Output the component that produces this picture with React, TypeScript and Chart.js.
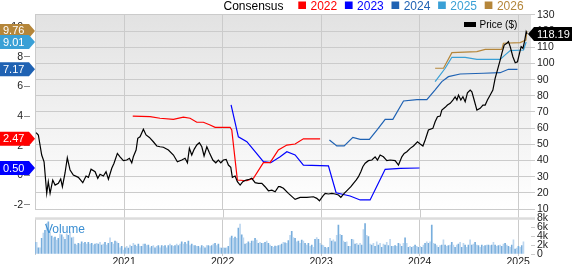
import React, { useEffect, useRef } from "react";
import { Chart, registerables } from "chart.js";

Chart.register(...registerables);

const FONT = "'Liberation Sans', Arial, sans-serif";

// ---- Data ----
const X_MIN = 2020.096;
const X_MAX = 2025.13;
const PRICE_MIN = 9.4;
const PRICE_MAX = 130.6;
const EPS_MIN = -2.338;
const EPS_MAX = 10.905;

const PRICE: [number, number][] = [
  [2020.107, 57.2], [2020.13, 55.8], [2020.164, 43.4], [2020.188, 39.2], [2020.215, 19.7], [2020.231, 26.9],
  [2020.249, 19.7], [2020.276, 27.9], [2020.3, 24.8], [2020.333, 25.9], [2020.357, 28.6], [2020.374, 23.8],
  [2020.401, 32.3], [2020.424, 41.7], [2020.452, 34.1], [2020.485, 31.0], [2020.536, 29.6], [2020.581, 26.3],
  [2020.614, 30.4], [2020.638, 29.6], [2020.665, 34.6], [2020.706, 33.1], [2020.733, 29.0], [2020.756, 31.5],
  [2020.79, 30.4], [2020.817, 33.1], [2020.841, 28.4], [2020.875, 35.2], [2020.898, 38.3], [2020.932, 44.4],
  [2020.959, 42.3], [2020.993, 39.9], [2021.027, 40.3], [2021.054, 41.4], [2021.078, 38.6], [2021.094, 42.3],
  [2021.122, 46.5], [2021.139, 53.7], [2021.162, 54.7], [2021.196, 59.3], [2021.223, 55.8], [2021.257, 54.3],
  [2021.297, 51.6], [2021.332, 49.0], [2021.365, 48.5], [2021.399, 48.2], [2021.45, 46.5], [2021.501, 43.4],
  [2021.541, 39.2], [2021.586, 40.3], [2021.619, 41.4], [2021.643, 38.6], [2021.663, 47.5], [2021.687, 43.4],
  [2021.711, 46.9], [2021.738, 49.6], [2021.764, 51.0], [2021.789, 48.5], [2021.812, 42.8], [2021.84, 48.5],
  [2021.866, 44.8], [2021.901, 40.3], [2021.931, 38.6], [2021.957, 40.3], [2021.982, 38.6], [2022.008, 40.3],
  [2022.036, 40.7], [2022.059, 37.2], [2022.083, 35.8], [2022.099, 29.6], [2022.127, 30.4], [2022.15, 26.9],
  [2022.178, 24.8], [2022.205, 26.9], [2022.239, 27.9], [2022.272, 28.4], [2022.296, 29.0], [2022.33, 26.3],
  [2022.363, 25.9], [2022.398, 25.9], [2022.431, 23.8], [2022.465, 21.3], [2022.5, 21.7], [2022.533, 20.7],
  [2022.567, 23.8], [2022.584, 23.8], [2022.617, 22.8], [2022.668, 19.7], [2022.736, 16.0], [2022.787, 17.2],
  [2022.855, 17.2], [2022.922, 17.6], [2022.956, 16.6], [2022.983, 15.1], [2023.017, 18.0], [2023.041, 19.7],
  [2023.074, 19.3], [2023.109, 19.7], [2023.142, 19.3], [2023.176, 18.7], [2023.2, 17.2], [2023.234, 19.7],
  [2023.267, 21.7], [2023.302, 23.8], [2023.328, 25.9], [2023.355, 27.9], [2023.379, 30.0], [2023.403, 33.1],
  [2023.423, 36.2], [2023.447, 38.3], [2023.48, 39.9], [2023.515, 40.3], [2023.548, 42.3], [2023.572, 40.3],
  [2023.599, 43.4], [2023.632, 42.3], [2023.667, 39.9], [2023.701, 40.3], [2023.751, 39.9], [2023.785, 37.2],
  [2023.819, 42.3], [2023.843, 44.4], [2023.87, 45.4], [2023.904, 47.5], [2023.937, 49.0], [2023.978, 51.6],
  [2024.005, 50.2], [2024.033, 49.0], [2024.056, 52.7], [2024.089, 58.9], [2024.134, 59.9], [2024.157, 64.0],
  [2024.181, 67.1], [2024.208, 67.5], [2024.225, 71.2], [2024.259, 72.9], [2024.282, 74.3], [2024.31, 75.4],
  [2024.337, 77.4], [2024.36, 79.4], [2024.378, 77.4], [2024.394, 80.5], [2024.418, 77.4], [2024.439, 79.4],
  [2024.462, 76.4], [2024.485, 81.9], [2024.513, 83.6], [2024.53, 82.5], [2024.553, 77.4], [2024.581, 71.2],
  [2024.614, 72.3], [2024.642, 74.3], [2024.665, 74.3], [2024.688, 77.4], [2024.716, 80.5], [2024.743, 83.6],
  [2024.766, 90.8], [2024.79, 96.0], [2024.817, 102.1], [2024.834, 106.3], [2024.858, 111.4], [2024.885, 112.5],
  [2024.901, 113.5], [2024.919, 110.4], [2024.946, 104.2], [2024.97, 100.5], [2024.993, 101.1], [2025.013, 106.3],
  [2025.03, 110.4], [2025.048, 109.4], [2025.064, 113.5], [2025.081, 119.6], [2025.09, 118.19],
];

const EPS_2022: [number, number][] = [
  [2021.088, 4.01], [2021.264, 3.97], [2021.365, 3.86], [2021.501, 3.79], [2021.602, 3.93], [2021.67, 3.86],
  [2021.738, 3.59], [2021.805, 3.59], [2021.873, 3.41], [2021.924, 3.25], [2022.076, 3.25], [2022.093, 3.07],
  [2022.15, -0.31], [2022.246, -0.36], [2022.313, -0.2], [2022.414, 0.86], [2022.482, 0.86], [2022.566, 1.72],
  [2022.652, 2.05], [2022.736, 2.12], [2022.82, 2.47], [2022.99, 2.47],
];
const EPS_2023: [number, number][] = [
  [2022.086, 4.76], [2022.16, 2.61], [2022.246, 2.28], [2022.33, 1.6], [2022.414, 0.93], [2022.489, 0.86],
  [2022.584, 1.26], [2022.652, 1.6], [2022.736, 1.38], [2022.82, 0.7], [2023.074, 0.64], [2023.152, -1.17],
  [2023.294, -1.39], [2023.396, -1.66], [2023.497, -1.66], [2023.65, 0.41], [2023.802, 0.48], [2023.998, 0.5],
];
const EPS_2024: [number, number][] = [
  [2023.084, 2.39], [2023.159, 1.99], [2023.234, 1.99], [2023.322, 2.57], [2023.396, 2.44], [2023.49, 2.44],
  [2023.572, 3.11], [2023.65, 3.79], [2023.728, 3.79], [2023.836, 5.03], [2023.972, 5.12], [2024.073, 5.12],
  [2024.157, 5.78], [2024.225, 6.34], [2024.292, 6.67], [2024.411, 6.85], [2024.647, 6.9], [2024.817, 6.94],
  [2024.901, 7.17], [2024.993, 7.17],
];
const EPS_2025: [number, number][] = [
  [2024.157, 6.33], [2024.259, 7.24], [2024.327, 7.98], [2024.462, 7.98], [2024.581, 7.84], [2024.817, 7.84],
  [2024.868, 8.14], [2024.919, 8.43], [2025.054, 8.47], [2025.081, 9.01],
];
const EPS_2026: [number, number][] = [
  [2024.157, 7.24], [2024.242, 7.24], [2024.327, 8.29], [2024.581, 8.36], [2024.665, 8.52], [2024.834, 8.52],
  [2024.85, 8.93], [2025.02, 8.97], [2025.078, 9.15], [2025.088, 9.76],
];

const SERIES_LABELS = ["2022", "2023", "2024", "2025", "2026"];
const SERIES_COLORS = ["#ff0000", "#0000ff", "#1f62b3", "#3aa0d6", "#b5863a"];
const SERIES_DATA = [EPS_2022, EPS_2023, EPS_2024, EPS_2025, EPS_2026];
const SERIES_TAGS = ["2.47", "0.50", "7.17", "9.01", "9.76"];
const TAG_ORDER = [4, 3, 2, 0, 1];
const LAST_PRICE = 118.19;

// weekly volume (thousands)
const VOL_START = 2020.096;
const VOL_STEP = 0.016919;
const VOLUME_K: number[] = [
  2.6, 2.6, 1.4, 1.4, 3.5, 4.7, 5.3, 6.9, 7.2, 4.9, 4.0, 3.6, 3.8, 3.1, 3.5, 4.5, 4.3, 3.8, 3.3, 4.5,
  4.2, 4.9, 3.6, 3.8, 2.2, 2.0, 2.4, 2.2, 2.7, 2.4, 2.6, 2.2, 2.6, 2.2, 2.4, 2.0, 2.2, 2.4, 2.2, 2.6,
  2.0, 2.2, 2.6, 2.0, 2.4, 3.6, 2.6, 2.2, 2.9, 2.7, 2.4, 1.4, 1.7, 0.9, 1.4, 1.7, 1.3, 2.0, 1.7, 2.4,
  2.0, 1.7, 2.2, 1.7, 1.7, 2.2, 2.2, 1.9, 2.0, 1.4, 1.7, 1.9, 1.4, 1.7, 1.9, 1.4, 1.9, 1.7, 1.9, 1.4,
  1.9, 2.2, 1.9, 1.7, 1.9, 2.2, 1.9, 2.2, 2.7, 2.2, 2.6, 2.2, 2.9, 1.9, 2.2, 1.9, 1.9, 1.7, 1.7, 1.4,
  1.9, 1.7, 1.4, 1.9, 1.9, 1.7, 1.9, 2.2, 2.4, 1.9, 2.2, 1.4, 1.3, 1.4, 1.3, 1.4, 1.7, 3.6, 4.0, 3.5,
  3.8, 3.5, 5.8, 6.7, 4.3, 3.6, 2.2, 2.4, 2.7, 2.4, 2.9, 2.9, 3.5, 3.1, 2.4, 2.6, 2.4, 2.4, 2.6, 2.9,
  2.4,
  2.0, 1.7, 1.5, 1.8, 1.7, 1.9, 2.0, 2.2, 2.6, 2.5, 2.4, 3.0, 4.2, 5.1, 3.7, 3.5, 2.7, 2.9, 2.4, 3.1,
  2.9, 2.4, 2.0, 2.4, 1.7, 2.0, 1.5, 3.3, 3.7, 3.3, 2.4, 2.0, 1.9, 1.5, 1.3, 1.5, 3.5, 2.9, 3.2, 2.7,
  4.2, 6.5, 4.4, 4.2, 2.9, 2.6, 2.7, 1.7, 1.7, 3.3, 3.2, 2.2, 2.4, 2.0, 2.4, 2.0, 5.5, 6.8, 4.2, 3.9,
  2.2, 2.0, 2.4, 1.7, 2.7, 2.0, 2.4, 1.5, 2.2, 2.0, 2.6, 1.9, 3.3, 1.7, 1.7, 1.9, 1.7, 2.4, 2.2, 1.7,
  2.4, 3.6, 2.4, 1.5, 1.7, 1.5, 1.7, 2.0, 1.7, 1.5, 1.7, 1.5, 2.0, 2.4, 2.7, 2.4, 2.7, 6.5, 2.4, 2.2,
  1.9, 1.5, 1.9, 2.0, 3.2, 2.0, 1.7, 1.9, 2.0, 2.6, 2.0, 1.5, 2.0, 2.2, 2.6, 1.5, 2.4, 2.0, 1.5, 2.0,
  3.2, 2.0, 2.2, 2.6, 2.0, 1.9, 1.5, 2.0, 1.7, 1.9, 2.0, 2.0, 1.9, 2.0, 2.6, 2.0, 1.7, 1.9, 2.0, 1.7,
  2.2, 2.4, 2.0, 1.7, 1.5, 2.0, 3.2, 1.1, 1.3, 1.7, 1.5, 1.9, 2.7,
];

const GRID = "#cbcbcb";
const TEXT = "#222222";

function toXY(arr: [number, number][]) {
  return arr.map(([x, y]) => ({ x, y }));
}

export default function App() {
  const mainRef = useRef<HTMLCanvasElement>(null);
  const volRef = useRef<HTMLCanvasElement>(null);

  useEffect(() => {
    Chart.defaults.font.family = FONT;
    Chart.defaults.color = TEXT;

    const bgPlugin = {
      id: "bg",
      beforeDraw(chart: any) {
        const { ctx, chartArea } = chart;
        const g = ctx.createLinearGradient(0, chartArea.top, 0, chartArea.bottom);
        g.addColorStop(0, "#e2e2e2");
        g.addColorStop(1, "#ffffff");
        ctx.save();
        ctx.fillStyle = g;
        ctx.fillRect(chartArea.left, chartArea.top, chartArea.right - chartArea.left, chartArea.bottom - chartArea.top);
        ctx.restore();
      },
    };

    const overlayPlugin = {
      id: "overlay",
      afterDraw(chart: any) {
        const { ctx, chartArea } = chart;
        const eps = chart.scales.eps;
        const price = chart.scales.y;
        ctx.save();
        // top legend
        ctx.textBaseline = "alphabetic";
        ctx.font = `12px ${FONT}`;
        ctx.fillStyle = "#000";
        ctx.textAlign = "left";
        ctx.fillText("Consensus", 223.5, 9.5);
        SERIES_LABELS.forEach((lab, i) => {
          const sx = 298.3 + i * 46.6;
          ctx.fillStyle = SERIES_COLORS[i];
          ctx.fillRect(sx, 1.5, 7.7, 7.5);
          ctx.fillText(lab, sx + 12.2, 9.5);
        });
        // price legend
        ctx.fillStyle = "#000";
        ctx.fillRect(464, 22, 12, 5);
        ctx.font = `10px ${FONT}`;
        ctx.textBaseline = "middle";
        ctx.fillText("Price ($)", 479.5, 24.8);
        // left tags
        ctx.font = `11px ${FONT}`;
        TAG_ORDER.forEach((i) => {
          const v = parseFloat(SERIES_TAGS[i]);
          const y = eps.getPixelForValue(v);
          const tip = chartArea.left;
          ctx.fillStyle = SERIES_COLORS[i];
          ctx.beginPath();
          ctx.moveTo(0, y - 7);
          ctx.lineTo(tip - 6, y - 7);
          ctx.lineTo(tip, y);
          ctx.lineTo(tip - 6, y + 7);
          ctx.lineTo(0, y + 7);
          ctx.closePath();
          ctx.fill();
          ctx.fillStyle = "#fff";
          ctx.fillText(SERIES_TAGS[i], 3, y + 0.5);
        });
        // right price tag
        const py = price.getPixelForValue(LAST_PRICE);
        const rx = chartArea.right - 3;
        ctx.fillStyle = "#000";
        ctx.beginPath();
        ctx.moveTo(rx, py);
        ctx.lineTo(rx + 6, py - 7);
        ctx.lineTo(chart.width, py - 7);
        ctx.lineTo(chart.width, py + 7);
        ctx.lineTo(rx + 6, py + 7);
        ctx.closePath();
        ctx.fill();
        ctx.fillStyle = "#fff";
        ctx.fillText(LAST_PRICE.toFixed(2), rx + 9, py + 0.5);
        ctx.restore();
      },
    };

    const epsDatasets = SERIES_DATA.map((d, i) => ({
      label: SERIES_LABELS[i],
      data: toXY(d),
      borderColor: SERIES_COLORS[i],
      backgroundColor: SERIES_COLORS[i],
      borderWidth: 1.2,
      pointRadius: 0,
      tension: 0,
      yAxisID: "eps",
    }));

    const main = new Chart(mainRef.current!, {
      type: "line",
      data: {
        datasets: [
          {
            label: "Price ($)",
            data: toXY(PRICE),
            borderColor: "#000",
            backgroundColor: "#000",
            borderWidth: 1.2,
            pointRadius: 0,
            tension: 0,
            yAxisID: "y",
          },
          ...epsDatasets,
        ] as any,
      },
      options: {
        animation: false,
        responsive: false,
        maintainAspectRatio: false,
        devicePixelRatio: 1,
        layout: { padding: { top: 14, bottom: 12, left: 0, right: 0 } },
        plugins: { legend: { display: false }, tooltip: { enabled: false } },
        scales: {
          x: {
            type: "linear",
            min: X_MIN,
            max: X_MAX,
            ticks: { display: false, stepSize: 1, includeBounds: false },
            grid: { color: GRID, drawTicks: false },
            border: { display: false },
            afterFit: (s: any) => { s.height = 0; },
          },
          y: {
            type: "linear",
            position: "right",
            min: PRICE_MIN,
            max: PRICE_MAX,
            ticks: { stepSize: 10, includeBounds: false, autoSkip: false, padding: 2, font: { size: 10.5 }, color: TEXT },
            grid: { color: GRID, tickLength: 4 },
            border: { display: false },
            afterFit: (s: any) => { s.width = 41; },
          },
          gap: {
            type: "linear",
            position: "left",
            weight: 0,
            min: 0,
            max: 1,
            ticks: { display: false },
            grid: { display: false },
            border: { display: true, color: GRID },
            afterFit: (s: any) => { s.width = 5; },
          },
          eps: {
            type: "linear",
            position: "left",
            weight: 1,
            min: EPS_MIN,
            max: EPS_MAX,
            ticks: { stepSize: 2, includeBounds: false, autoSkip: false, padding: 1, font: { size: 10.5 }, color: TEXT },
            grid: { drawOnChartArea: false, tickLength: 6, color: "#8a8a8a" },
            border: { display: false },
            afterFit: (s: any) => { s.width = 30; },
          },
        } as any,
      },
      plugins: [bgPlugin, overlayPlugin],
    });

    const volOverlay = {
      id: "volOverlay",
      beforeDraw(chart: any) {
        const { ctx, chartArea } = chart;
        ctx.save();
        ctx.fillStyle = "#ffffff";
        ctx.fillRect(chartArea.left, 0, chartArea.right - chartArea.left, chartArea.bottom);
        // vertical year lines through the gap above the volume panel
        const xs = chart.scales.x;
        ctx.strokeStyle = GRID;
        ctx.lineWidth = 1;
        xs.ticks.forEach((t: any) => {
          const px = Math.round(xs.getPixelForValue(t.value)) + 0.5;
          ctx.beginPath();
          ctx.moveTo(px, 0);
          ctx.lineTo(px, chartArea.top);
          ctx.stroke();
        });
        ctx.restore();
      },
      afterDraw(chart: any) {
        const { ctx, chartArea } = chart;
        ctx.save();
        ctx.fillStyle = "#dcdcdc";
        ctx.fillRect(chartArea.left, chartArea.top - 1, chartArea.right - chartArea.left + 4, 2.5);
        ctx.font = `12px ${FONT}`;
        ctx.fillStyle = "#3a8ed2";
        ctx.textBaseline = "alphabetic";
        ctx.fillText("Volume", 45, 23);
        ctx.restore();
      },
    };

    const vol = new Chart(volRef.current!, {
      type: "bar",
      data: {
        datasets: [
          {
            label: "Volume",
            data: VOLUME_K.map((v, i) => ({ x: VOL_START + i * VOL_STEP, y: v * 1000 })),
            backgroundColor: VOLUME_K.map((_, i) => (i % 2 ? "#bcd6ef" : "#78aedd")),
            borderWidth: 0,
            barThickness: 1,
            yAxisID: "vy",
          },
        ] as any,
      },
      options: {
        animation: false,
        responsive: false,
        maintainAspectRatio: false,
        devicePixelRatio: 1,
        layout: { padding: { top: 7.5, bottom: 0, left: 0, right: 0 } },
        plugins: { legend: { display: false }, tooltip: { enabled: false } },
        scales: {
          x: {
            type: "linear",
            min: X_MIN,
            max: X_MAX,
            offset: false,
            ticks: {
              stepSize: 1,
              includeBounds: false,
              autoSkip: false,
              maxRotation: 0,
              padding: 0,
              font: { size: 10.5 },
              color: TEXT,
              callback: (v: any) => String(v),
            },
            grid: { color: GRID, tickLength: 2, offset: false },
            border: { display: false },
            afterFit: (s: any) => { s.height = 10; },
          },
          vl: {
            type: "linear",
            position: "left",
            min: 0,
            max: 1,
            ticks: { display: false },
            grid: { display: false },
            border: { display: true, color: GRID },
            afterFit: (s: any) => { s.width = 35; },
          },
          vy: {
            type: "linear",
            position: "right",
            min: 0,
            max: 8000,
            ticks: {
              stepSize: 2000,
              autoSkip: false,
              padding: 2,
              font: { size: 10.5 },
              color: TEXT,
              callback: (v: any) => (v === 0 ? "0" : `${v / 1000}k`),
            },
            grid: { drawOnChartArea: false, tickLength: 4, color: GRID },
            border: { display: false },
            afterFit: (s: any) => { s.width = 41; },
          },
        } as any,
      },
      plugins: [volOverlay],
    });

    return () => {
      main.destroy();
      vol.destroy();
    };
  }, []);

  return (
    <div style={{ position: "fixed", left: 0, top: 0, width: 572, height: 264, background: "#ffffff", overflow: "hidden" }}>
      <canvas ref={mainRef} width={572} height={222} style={{ position: "absolute", left: 0, top: 0, width: 572, height: 222 }} />
      <canvas ref={volRef} width={572} height={54} style={{ position: "absolute", left: 0, top: 210, width: 572, height: 54 }} />
    </div>
  );
}
